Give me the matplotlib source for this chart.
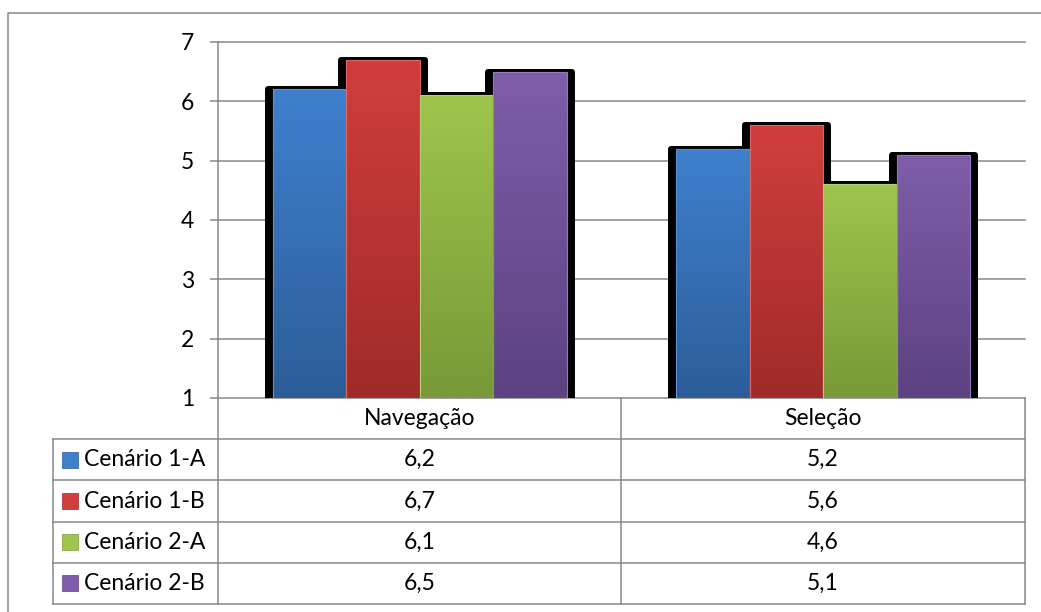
import numpy as np
import matplotlib
matplotlib.use('Agg')
import matplotlib.pyplot as plt
from matplotlib.colors import LinearSegmentedColormap
from matplotlib.patches import Rectangle
from matplotlib.lines import Line2D

# Data
categories = ['Navegação', 'Seleção']
series = ['Cenário 1-A', 'Cenário 1-B', 'Cenário 2-A', 'Cenário 2-B']
cen_1a = [6.2, 5.2]
cen_1b = [6.7, 5.6]
cen_2a = [6.1, 4.6]
cen_2b = [6.5, 5.1]
values = [cen_1a, cen_1b, cen_2a, cen_2b]

top_colors = ['#3e80cd', '#d03e3c', '#9ec54c', '#7f5daa']
bottom_colors = ['#2d5d99', '#9f2b29', '#779937', '#5c4281']
edge_colors = ['#5a93d6', '#dc6664', '#b3d275', '#9579bb']
grid_gray = '#878787'

plt.rcParams['font.family'] = ['Lato', 'DejaVu Sans']
fs = 16.5

fig = plt.figure(figsize=(10.41, 6.12), dpi=100)
W, H = 1041, 612
AX_L, AX_T, AX_W, AX_H = 218, 42, 807, 356
ax = fig.add_axes([AX_L / W, 1 - (AX_T + AX_H) / H, AX_W / W, AX_H / H])
ax.set_xlim(-0.5, 1.5)
ax.set_ylim(1, 7)

px_x = AX_W / 2.0   # pixels per x unit
x = np.arange(len(categories))
width = 0.182
offsets = (np.arange(len(series)) - 1.5) * width

# Black shadows behind every bar first
for off, vals in zip(offsets, values):
    ax.bar(x + off, np.array(vals) - 1, width=width + 2 * 5 / px_x, bottom=1,
           color='black', edgecolor='black', linewidth=4.3, joinstyle='round',
           zorder=2)

# Bars with a vertical gradient
grad = np.linspace(0, 1, 256)[:, None]
for i, vals in enumerate(values):
    bars = ax.bar(x + offsets[i], np.array(vals) - 1, width, bottom=1,
                  color=top_colors[i], linewidth=0, zorder=3)
    cmap = LinearSegmentedColormap.from_list('g%d' % i, [top_colors[i], bottom_colors[i]])
    for b in bars:
        im = ax.imshow(grad, cmap=cmap, aspect='auto', origin='upper',
                       extent=(b.get_x(), b.get_x() + b.get_width(),
                               b.get_y(), b.get_y() + b.get_height()),
                       zorder=3.5)
        im.set_clip_path(b)
    ax.bar(x + offsets[i], np.array(vals) - 1, width, bottom=1, fill=False,
           edgecolor=edge_colors[i], linewidth=0.8, zorder=4)

ax.set_xlim(-0.5, 1.5)
ax.set_ylim(1, 7)
ax.set_yticks(range(1, 8))
ax.set_xticks([])
ax.yaxis.grid(True, color=grid_gray, linewidth=1.1)
ax.set_axisbelow(True)
for line in ax.get_ygridlines():
    line.set_clip_on(False)
for s in ['top', 'right', 'bottom']:
    ax.spines[s].set_visible(False)
ax.spines['left'].set_color(grid_gray)
ax.spines['left'].set_linewidth(1.1)
ax.tick_params(axis='y', length=6, color=grid_gray, width=1.1, pad=11,
               labelsize=fs)


# Data table under the plot, drawn in axes coordinates
def ax_xy(px, py):
    return (px - AX_L) / AX_W, (AX_T + AX_H - py) / AX_H


def hline(px0, px1, py):
    (x0, y0), (x1, _) = ax_xy(px0, py), ax_xy(px1, py)
    ax.plot([x0, x1], [y0, y0], transform=ax.transAxes, color=grid_gray,
            linewidth=1.1, clip_on=False, zorder=1)


def vline(px, py0, py1):
    (x0, y0), (_, y1) = ax_xy(px, py0), ax_xy(px, py1)
    ax.plot([x0, x0], [y0, y1], transform=ax.transAxes, color=grid_gray,
            linewidth=1.1, clip_on=False, zorder=1)


tab_left, tab_right, tab_top, tab_bottom = 53, 1025, 398, 604
col_mid = 621
row_h = (tab_bottom - tab_top) / (len(series) + 1)
row_edges = [tab_top + row_h * k for k in range(len(series) + 2)]

for k, py in enumerate(row_edges[1:]):
    hline(tab_left, tab_right, py)
vline(tab_left, row_edges[1], tab_bottom)
for px in (AX_L, col_mid, tab_right):
    vline(px, tab_top, tab_bottom)

col_centers = [(AX_L + col_mid) / 2, (col_mid + tab_right) / 2]
for cx, name in zip(col_centers, categories):
    tx, ty = ax_xy(cx, tab_top + row_h / 2)
    ax.text(tx, ty, name, transform=ax.transAxes, ha='center', va='center',
            fontsize=fs)

for i, (name, vals) in enumerate(zip(series, values)):
    cy = row_edges[i + 1] + row_h / 2
    sx, sy = ax_xy(62, cy + 8)
    ax.add_patch(Rectangle((sx, sy), 16 / AX_W, 16 / AX_H,
                           transform=ax.transAxes, facecolor=top_colors[i],
                           edgecolor=bottom_colors[i], linewidth=0.5,
                           clip_on=False, zorder=5))
    tx, ty = ax_xy(84, cy)
    ax.text(tx, ty, name, transform=ax.transAxes, ha='left', va='center',
            fontsize=fs)
    for cx, v in zip(col_centers, vals):
        tx, ty = ax_xy(cx, cy)
        ax.text(tx, ty, ('%.1f' % v).replace('.', ','), transform=ax.transAxes,
                ha='center', va='center', fontsize=fs)

# Outer chart border (cut by the image at right and bottom)
fig.add_artist(Line2D([8 / W, 8 / W, 1.0], [0.0, 1 - 13 / H, 1 - 13 / H],
                      transform=fig.transFigure, color=grid_gray, linewidth=1.1))

fig.savefig('out.png', dpi=100)
